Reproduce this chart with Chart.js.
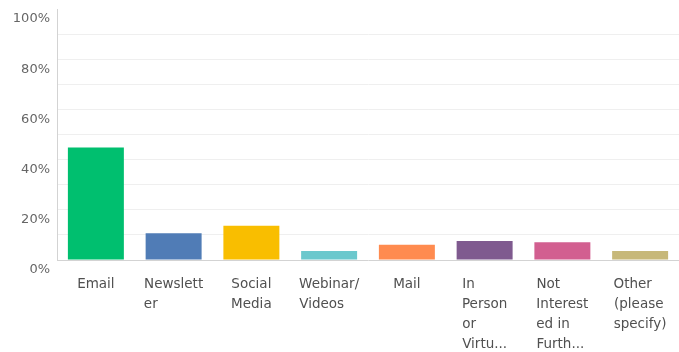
<!DOCTYPE html>
<html>
<head>
<meta charset="utf-8">
<script src="https://cdn.jsdelivr.net/npm/chart.js@4.4.1/dist/chart.umd.min.js"></script>
<style>
  html, body { margin: 0; padding: 0; background: #ffffff; }
  canvas { display: block; }
</style>
</head>
<body>
<canvas id="chart" width="679" height="352"></canvas>
<script>
// Answer choices, already wrapped into the lines shown under each bar
const categories = [
  ["Email"],
  ["Newslett", "er"],
  ["Social", "Media"],
  ["Webinar/", "Videos"],
  ["Mail"],
  ["In", "Person", "or", "Virtu..."],
  ["Not", "Interest", "ed in", "Furth..."],
  ["Other", "(please", "specify)"]
];

// Share of respondents per choice (%)
const percentages = [44.8, 10.7, 13.6, 3.6, 6.1, 7.6, 7.1, 3.6];

const barColors = ["#00bf6f", "#507cb6", "#f9be00", "#6bc8cd", "#ff8b4f", "#7f5a8f", "#d25f90", "#c7b879"];

// Value-axis ticks: gridline every 10%, label every 20%
const yTickStep = 10;
const yLabelEvery = 20;

const xFont = { family: "'DejaVu Sans', sans-serif", size: 13.5, lineHeight: 1.48 };
const yFont = { family: "'DejaVu Sans', sans-serif", size: 13 };

// Pad each line of a label with hair spaces so that all lines share the same
// width; centred as a block, the lines then start at a common left edge.
const measureCtx = document.createElement("canvas").getContext("2d");
measureCtx.font = xFont.size + "px " + xFont.family;
function alignLines(lines) {
  const widths = lines.map(l => measureCtx.measureText(l).width);
  const maxW = Math.max(...widths);
  const hair = "\u200A";
  return lines.map(l => {
    let s = l;
    while (measureCtx.measureText(s + hair).width <= maxW + 0.5) s += hair;
    return s;
  });
}

new Chart(document.getElementById("chart"), {
  type: "bar",
  data: {
    labels: categories,
    datasets: [{
      data: percentages,
      backgroundColor: barColors,
      borderWidth: 0,
      barPercentage: 0.72,
      categoryPercentage: 1.0
    }]
  },
  options: {
    responsive: false,
    animation: false,
    layout: { padding: { top: 9, right: 0, bottom: 0, left: 0 } },
    plugins: {
      legend: { display: false },
      tooltip: { enabled: false }
    },
    scales: {
      x: {
        grid: { display: false, drawTicks: false },
        border: { display: true, color: "#d3d3d3", width: 1 },
        ticks: {
          font: xFont,
          color: "#505050",
          padding: 15,
          maxRotation: 0,
          autoSkip: false,
          callback: function (value, index) {
            return alignLines(categories[index]);
          }
        },
        afterFit: function (scale) {
          scale.height = 92;
          scale.paddingLeft = 0;
          scale.paddingRight = 0;
        }
      },
      y: {
        min: 0,
        max: 100,
        grid: {
          drawTicks: false,
          lineWidth: 1,
          color: function (ctx) {
            const v = ctx.tick ? ctx.tick.value : null;
            return (v === 0 || v === 100) ? "rgba(0,0,0,0)" : "#efefef";
          }
        },
        border: { display: true, color: "#d3d3d3", width: 1 },
        ticks: {
          stepSize: yTickStep,
          font: yFont,
          color: "#666666",
          padding: 7,
          labelOffset: 10,
          callback: function (value) {
            return value % yLabelEvery === 0 ? value + "%" : "";
          }
        },
        afterFit: function (scale) {
          scale.width = 57;
          scale.paddingTop = 0;
          scale.paddingBottom = 0;
        }
      }
    }
  }
});
</script>
</body>
</html>
